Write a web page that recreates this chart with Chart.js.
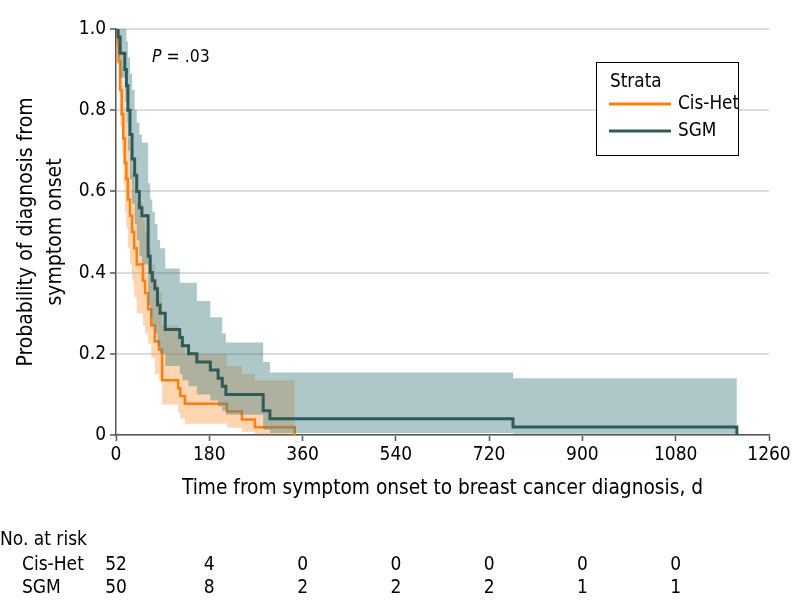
<!DOCTYPE html>
<html>
<head>
<meta charset="utf-8">
<script src="https://cdn.jsdelivr.net/npm/chart.js"></script>
<style>
  html, body { margin: 0; padding: 0; background: #fff; }
  #wrap { width: 794px; height: 612px; }
</style>
</head>
<body>
<div id="wrap"><canvas id="kmChart" width="794" height="612"></canvas></div>
<script>
// Cis-Het curve (days, survival) and its confidence band
var cisTime  = [0, 3, 5, 8, 11, 14, 17, 20, 23, 27, 31, 35, 40, 52, 56, 62, 68, 75, 83, 89, 120, 124, 133, 214, 243, 268, 345];
var cisSurv  = [1, 0.96, 0.92, 0.85, 0.79, 0.73, 0.67, 0.63, 0.58, 0.54, 0.50, 0.46, 0.42, 0.38, 0.35, 0.31, 0.27, 0.23, 0.21, 0.135, 0.115, 0.096, 0.077, 0.058, 0.038, 0.019, 0];
var cisUpper = [1, 1, 1, 0.96, 0.91, 0.86, 0.81, 0.77, 0.73, 0.69, 0.65, 0.61, 0.57, 0.53, 0.50, 0.46, 0.42, 0.37, 0.35, 0.27, 0.25, 0.23, 0.20, 0.17, 0.15, 0.135, 0.135];
var cisLower = [1, 0.91, 0.85, 0.76, 0.69, 0.62, 0.55, 0.51, 0.46, 0.42, 0.38, 0.34, 0.30, 0.27, 0.25, 0.225, 0.19, 0.15, 0.135, 0.075, 0.055, 0.04, 0.028, 0.018, 0.008, 0.002, 0.002];

// SGM curve
var sgmTime  = [0, 4, 8, 17, 20, 23, 27, 31, 36, 40, 45, 50, 62, 66, 70, 75, 80, 85, 95, 123, 128, 140, 156, 182, 197, 205, 212, 284, 297, 766, 1198];
var sgmSurv  = [1, 0.98, 0.94, 0.90, 0.86, 0.80, 0.74, 0.68, 0.64, 0.60, 0.56, 0.54, 0.44, 0.40, 0.38, 0.36, 0.32, 0.30, 0.26, 0.24, 0.22, 0.20, 0.18, 0.16, 0.14, 0.12, 0.10, 0.06, 0.04, 0.02, 0];
var sgmUpper = [1, 1, 1, 1, 0.97, 0.93, 0.89, 0.85, 0.80, 0.77, 0.74, 0.72, 0.62, 0.58, 0.55, 0.52, 0.48, 0.46, 0.41, 0.375, 0.375, 0.375, 0.33, 0.29, 0.29, 0.25, 0.228, 0.18, 0.154, 0.14, 0.14];
var sgmLower = [1, 0.94, 0.88, 0.82, 0.77, 0.70, 0.63, 0.57, 0.52, 0.48, 0.44, 0.42, 0.32, 0.29, 0.27, 0.25, 0.22, 0.20, 0.17, 0.15, 0.135, 0.12, 0.10, 0.085, 0.07, 0.06, 0.05, 0.013, 0.005, 0.003, 0.003];

// number at risk table
var riskTimes = [0, 180, 360, 540, 720, 900, 1080];
var riskCis   = [52, 4, 0, 0, 0, 0, 0];
var riskSgm   = [50, 8, 2, 2, 2, 1, 1];

var FONT = '"DejaVu Sans Condensed", "DejaVu Sans", sans-serif';
var ORANGE = '#ff7f0e';
var GREEN = '#2e5a5a';

function pts(t, v) {
  return t.map(function (x, i) { return { x: x, y: v[i] }; });
}

function bandSet(t, v, fillTo, color, ord) {
  return {
    data: pts(t, v),
    stepped: true,
    borderWidth: 0,
    borderColor: 'rgba(0,0,0,0)',
    backgroundColor: color,
    pointRadius: 0,
    fill: fillTo,
    order: ord
  };
}

var extras = {
  id: 'extras',
  afterDraw: function (chart) {
    var ctx = chart.ctx;
    var xs = chart.scales.x;
    ctx.save();
    ctx.fillStyle = '#000';
    ctx.textBaseline = 'middle';

    // P value
    ctx.font = 'italic 17.5px ' + FONT;
    ctx.textAlign = 'left';
    ctx.fillText('P', 152, 57);
    var pw = ctx.measureText('P').width;
    ctx.font = '17.5px ' + FONT;
    ctx.fillText(' = .03', 152 + pw, 57);

    // legend box
    ctx.fillStyle = '#fff';
    ctx.fillRect(596, 62, 142, 93);
    ctx.strokeStyle = '#000';
    ctx.lineWidth = 1;
    ctx.strokeRect(596.5, 62.5, 142, 93);
    ctx.fillStyle = '#000';
    ctx.font = '18.8px ' + FONT;
    ctx.fillText('Strata', 610, 82);
    ctx.lineWidth = 3;
    ctx.strokeStyle = ORANGE;
    ctx.beginPath(); ctx.moveTo(609, 104); ctx.lineTo(671, 104); ctx.stroke();
    ctx.strokeStyle = GREEN;
    ctx.beginPath(); ctx.moveTo(609, 131); ctx.lineTo(671, 131); ctx.stroke();
    ctx.fillText('Cis-Het', 678, 104);
    ctx.fillText('SGM', 678, 131);

    // risk table
    ctx.font = '19px ' + FONT;
    ctx.fillText('No. at risk', 0, 540);
    ctx.fillText('Cis-Het', 22, 565);
    ctx.fillText('SGM', 22, 588);
    ctx.textAlign = 'center';
    riskTimes.forEach(function (t, i) {
      var px = xs.getPixelForValue(t);
      ctx.fillText(String(riskCis[i]), px, 565);
      ctx.fillText(String(riskSgm[i]), px, 588);
    });
    ctx.restore();
  }
};

Chart.defaults.font.family = FONT;
Chart.defaults.font.size = 19;
Chart.defaults.color = '#000';

new Chart(document.getElementById('kmChart'), {
  type: 'line',
  data: {
    datasets: [
      bandSet(cisTime, cisUpper, 1, 'rgba(255,140,40,0.36)', 5),
      bandSet(cisTime, cisLower, false, 'rgba(0,0,0,0)', 6),
      {
        label: 'Cis-Het',
        data: pts(cisTime, cisSurv),
        stepped: true,
        borderColor: ORANGE,
        borderWidth: 2.5,
        pointRadius: 0,
        fill: false,
        order: 4
      },
      bandSet(sgmTime, sgmUpper, 4, 'rgba(70,130,135,0.44)', 3),
      bandSet(sgmTime, sgmLower, false, 'rgba(0,0,0,0)', 2),
      {
        label: 'SGM',
        data: pts(sgmTime, sgmSurv),
        stepped: true,
        borderColor: GREEN,
        borderWidth: 3,
        pointRadius: 0,
        fill: false,
        order: 1
      }
    ]
  },
  options: {
    responsive: false,
    animation: false,
    layout: { padding: { left: 0, right: 25, top: 29, bottom: 107 } },
    plugins: {
      legend: { display: false },
      tooltip: { enabled: false }
    },
    scales: {
      x: {
        type: 'linear',
        min: 0,
        max: 1260,
        ticks: {
          stepSize: 180,
          padding: 3,
          callback: function (v) { return String(v); }
        },
        grid: { drawOnChartArea: false, drawTicks: true, tickLength: 6, tickColor: '#555', tickWidth: 1.5 },
        border: { color: '#555', width: 1.5 },
        title: {
          display: true,
          text: 'Time from symptom onset to breast cancer diagnosis, d',
          font: { size: 20.7 },
          padding: { top: 4, bottom: 4 }
        },
        afterFit: function (s) { s.height = 70; }
      },
      y: {
        min: 0,
        max: 1,
        ticks: {
          stepSize: 0.2,
          padding: 4,
          callback: function (v) { return v === 0 ? '0' : v.toFixed(1); }
        },
        grid: { color: '#dcdcdc', lineWidth: 2, tickLength: 6, tickColor: '#555', tickWidth: 1.5 },
        border: { color: '#555', width: 1.5 },
        title: {
          display: true,
          text: ['Probability of diagnosis from', 'symptom onset'],
          font: { size: 21, lineHeight: 1.38 },
          padding: { top: 12, bottom: 0 }
        },
        afterFit: function (s) { s.width = 116; }
      }
    }
  },
  plugins: [extras]
});
</script>
</body>
</html>
